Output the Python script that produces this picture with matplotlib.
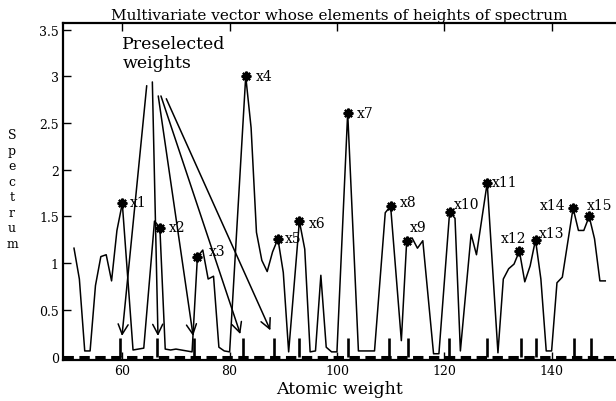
#!/usr/bin/env python3
"""
Spectrum heights with the preselected weights marked.
"""

import matplotlib
matplotlib.use("Agg")
import matplotlib.pyplot as plt

# Spectrum (atomic weight -> height)
weights = [51, 52, 53, 54, 55, 56, 57, 58, 59, 60, 62, 64, 66, 67, 68, 69, 70, 71, 72, 73,
           74, 75, 76, 77, 78, 79, 80, 83, 84, 85, 86, 87, 88, 89, 90, 91, 93, 94, 95, 96,
           97, 98, 99, 100, 102, 104, 107, 109, 110, 112, 113, 114, 115, 116, 118, 119, 121, 122, 123, 125,
           126, 128, 130, 131, 132, 133, 134, 135, 136, 137, 138, 139, 140, 141, 142, 144, 145, 146, 147, 148,
           149, 150]
heights = [1.16, 0.83, 0.06, 0.06, 0.76, 1.07, 1.09, 0.81, 1.35, 1.64, 0.07, 0.09, 1.45, 1.38, 0.08, 0.07, 0.08, 0.07, 0.06, 0.05,
           1.07, 1.14, 0.83, 0.86, 0.10, 0.06, 0.05, 3.00, 2.45, 1.33, 1.03, 0.91, 1.12, 1.26, 0.90, 0.05, 1.45, 1.15, 0.05, 0.06,
           0.87, 0.10, 0.05, 0.05, 2.61, 0.06, 0.06, 1.54, 1.61, 0.17, 1.24, 1.27, 1.16, 1.24, 0.03, 0.03, 1.55, 1.48, 0.06, 1.31,
           1.09, 1.86, 0.04, 0.83, 0.94, 0.99, 1.13, 0.80, 0.97, 1.25, 0.83, 0.06, 0.06, 0.79, 0.85, 1.59, 1.35, 1.35, 1.50, 1.26,
           0.81, 0.81]

# Selected peaks x1..x15
peak_x = [60, 67, 74, 83, 89, 93, 102, 110, 113, 121, 128, 134, 137, 144, 147]
peak_names = ["x%d" % (i + 1) for i in range(len(peak_x))]

# Short bars for the preselected weights
stem_x = [59.5, 66.5, 73.3, 82.5, 88.3, 93, 102, 109.7, 113.3, 120.8, 127.9, 134.3, 137.1, 144.2, 147.4]
stem_h = 0.2

# Arrows from the "Preselected weights" text
arrow_from = [(64.55, 2.90), (65.6, 2.94), (66.7, 2.79), (67.2, 2.79), (68.2, 2.76)]
arrow_to = [(59.94, 0.22), (66.65, 0.22), (73.2, 0.22), (82.0, 0.24), (87.6, 0.28)]

# label offsets in pixels (dx, dy, ha)
label_offsets = [(8, 1, 'left'), (9, 1, 'left'), (11, 6, 'left'), (10, 0, 'left'), (7, 1, 'left'),
                 (9, -2, 'left'), (9, 0, 'left'), (9, 4, 'left'), (3, 14, 'left'), (4, 8, 'left'),
                 (5, 1, 'left'), (7, 13, 'right'), (3, 7, 'left'), (-8, 3, 'right'), (-2, 11, 'left')]

plt.rcParams['font.family'] = ['DejaVu Serif']

fig = plt.figure(figsize=(6.16, 4.02), dpi=100)
ax = fig.add_axes([63 / 616, 41 / 402, 553 / 616, 337 / 402])

ax.plot(weights, heights, color='black', linewidth=1.1)

peak_y = [heights[weights.index(p)] for p in peak_x]
ax.plot(peak_x, peak_y, linestyle='none', marker=(8, 2, 0), markersize=7,
        markeredgewidth=1.6, color='black')

for px, py, name, (dx, dy, ha) in zip(peak_x, peak_y, peak_names, label_offsets):
    ax.annotate(name, xy=(px, py), xytext=(dx, dy), textcoords='offset pixels',
                ha=ha, va='center', fontsize=10)

# zero line and stems
ax.axhline(0, color='black', linewidth=2.2, linestyle=(0, (3.4, 1.8)))
ax.vlines(stem_x, 0, stem_h, color='black', linewidth=1.9)

ax.text(60, 3.44, "Preselected\nweights", fontsize=12.5, ha='left', va='top', linespacing=1.15)
for (x0, y0), (x1, y1) in zip(arrow_from, arrow_to):
    ax.annotate("", xy=(x1, y1), xytext=(x0, y0),
                arrowprops=dict(arrowstyle='->, head_length=0.6, head_width=0.3',
                                color='black', lw=1.1, mutation_scale=12,
                                shrinkA=0, shrinkB=0))

ax.set_xlim(48.95, 152)
ax.set_ylim(-0.037, 3.571)
ax.set_xticks([60, 80, 100, 120, 140])
ax.set_yticks([0, 0.5, 1, 1.5, 2, 2.5, 3, 3.5])
ax.set_yticklabels(["0", "0.5", "1", "1.5", "2", "2.5", "3", "3.5"])
ax.tick_params(direction='in', top=True, right=False, length=6, width=1, labelsize=9, pad=3)

for side in ['top', 'bottom', 'left']:
    ax.spines[side].set_linewidth(1.6)
ax.spines['right'].set_visible(False)

ax.set_title("Multivariate vector whose elements of heights of spectrum", fontsize=11, pad=3)
ax.set_xlabel("Atomic weight", fontsize=12.5, labelpad=2)
fig.text(12 / 616, 1 - 190 / 402, "S\np\ne\nc\nt\nr\nu\nm", fontsize=9,
         ha='center', va='center', multialignment='center', linespacing=1.25)

fig.savefig("out.png", dpi=100)
